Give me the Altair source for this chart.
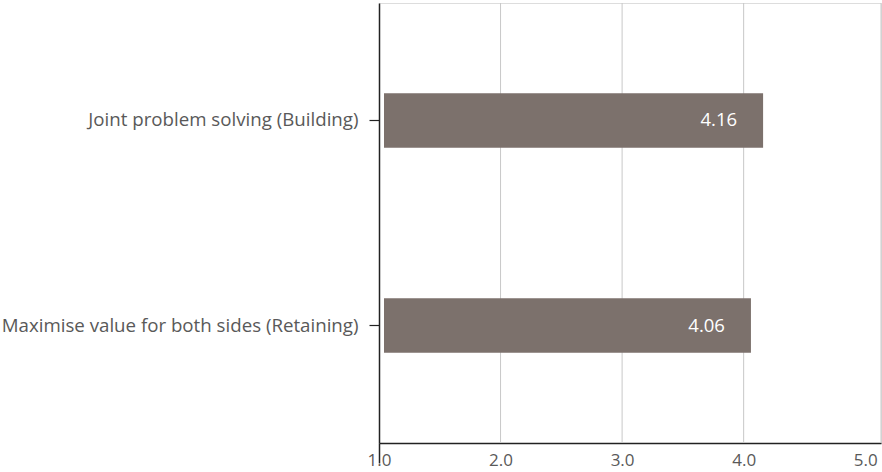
import altair as alt
import pandas as pd

# Mean scores per negotiation behaviour
categories = [
    "Joint problem solving (Building)",
    "Maximise value for both sides (Retaining)",
]
scores = [4.16, 4.06]
value_labels = ["4.16", "4.06"]

X_MIN = 1.0
X_MAX = 5.13
grid_values = [2.0, 3.0, 4.0]

df = pd.DataFrame({
    "category": categories,
    "score": scores,
    "label": value_labels,
    "start": [X_MIN] * len(categories),
})

FONT = "Open Sans"
TEXT_GREY = "#595959"
BAR_COLOR = "#7C716C"

x_scale = alt.Scale(domain=[X_MIN, X_MAX], nice=False, zero=False)
y_scale = alt.Scale(domain=categories, paddingInner=0.734, paddingOuter=0.44)

grid = alt.Chart(pd.DataFrame({"v": grid_values + [X_MAX]})).mark_rule(
    color="#c8c8c8", strokeWidth=1
).encode(x=alt.X("v:Q", scale=x_scale))

bars = alt.Chart(df).mark_bar(color=BAR_COLOR, xOffset=5).encode(
    x=alt.X(
        "start:Q",
        scale=x_scale,
        axis=alt.Axis(
            values=[1, 2, 3, 4, 5],
            format=".1f",
            title=None,
            grid=False,
            domainColor="#222222",
            domainWidth=1.5,
            tickSize=20,
            tickWidth=1.5,
            tickColor=alt.condition("datum.value == 1", alt.value("#222222"), alt.value("transparent")),
            labelPadding=-11,
            labelFlush=False,
            labelFont=FONT,
            labelFontSize=17,
            labelColor=TEXT_GREY,
        ),
    ),
    x2="score:Q",
    y=alt.Y(
        "category:N",
        scale=y_scale,
        sort=categories,
        axis=alt.Axis(
            title=None,
            domainColor="#222222",
            domainWidth=1.5,
            tickColor="#222222",
            tickWidth=1.2,
            tickSize=10,
            labelPadding=11,
            labelFont=FONT,
            labelFontSize=18.7,
            labelColor=TEXT_GREY,
            labelLimit=400,
        ),
    ),
)

labels = alt.Chart(df).mark_text(
    align="right", baseline="middle", dx=-26, color="white", font=FONT, fontSize=18.5
).encode(
    x=alt.X("score:Q", scale=x_scale),
    y=alt.Y("category:N", scale=y_scale, sort=categories),
    text="label:N",
)

chart = alt.layer(grid, bars, labels).properties(
    width=502,
    height=440,
    autosize=alt.AutoSizeParams(type="none"),
    padding={"left": 379, "top": 3, "right": 1, "bottom": 29},
).configure_view(stroke=None).configure(background="white")

chart.save("out.html", embed_options={"renderer": "svg", "actions": False})
